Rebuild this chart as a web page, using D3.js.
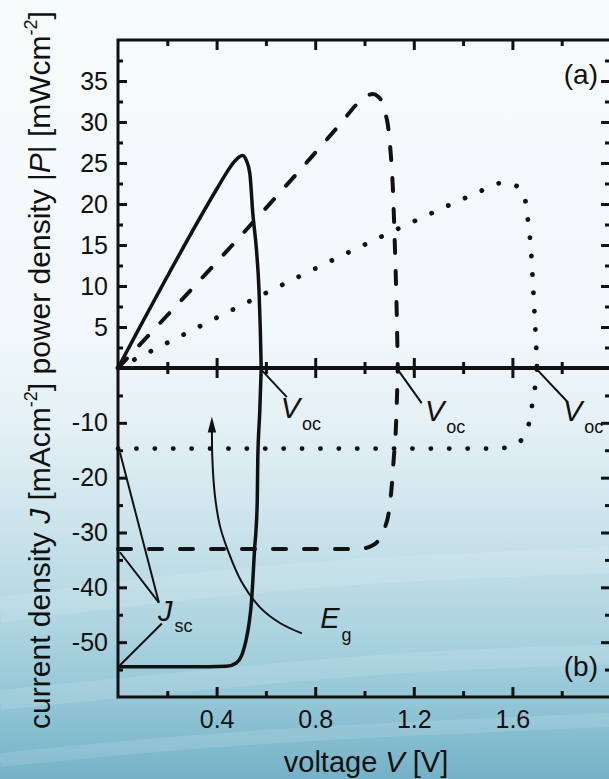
<!DOCTYPE html>
<html>
<head>
<meta charset="utf-8">
<script src="https://cdn.jsdelivr.net/npm/d3@7"></script>
<style>
  html, body { margin: 0; padding: 0; overflow: hidden; background: #f6fbfc; }
</style>
</head>
<body>
<script>
// values: [voltage V, power density P] and [voltage V, current density J]
// solid = low band gap, dashed = medium, dotted = high
const solidP = [[0,0],[0.4,21.8],[0.44,23.8],[0.47,25.1],[0.49,25.7],[0.505,25.9],[0.521,25.3],[0.535,23.7],[0.547,18.8],[0.562,14.3],[0.572,9.5],[0.577,5],[0.581,0]];
const solidJ = [[0,-54.5],[0.3,-54.5],[0.44,-54.4],[0.48,-53.8],[0.5,-52.6],[0.519,-49.7],[0.532,-46.5],[0.542,-42.4],[0.547,-38.8],[0.554,-33],[0.56,-29.5],[0.565,-24],[0.567,-16.8],[0.575,-8],[0.581,0]];

const dashedP = [[0,0],[0.9,29.7],[0.98,32.5],[1.01,33.2],[1.034,33.4],[1.055,33.1],[1.07,32.5],[1.085,31],[1.094,29.8],[1.107,25.9],[1.115,22],[1.122,16],[1.128,10],[1.132,5],[1.135,0]];
const dashedJ = [[0,-33],[0.9,-33],[0.995,-32.9],[1.03,-32.4],[1.05,-31.8],[1.07,-30.5],[1.085,-28.8],[1.095,-27.2],[1.11,-21.8],[1.119,-16.3],[1.127,-11.3],[1.132,-5],[1.135,0]];

const dottedP = [[0,0],[1.45,21.3],[1.495,21.9],[1.53,22.4],[1.569,22.6],[1.6,22.4],[1.637,21.7],[1.658,19.4],[1.666,17.1],[1.674,15],[1.682,11],[1.69,6.5],[1.696,3],[1.7,0]];
const dottedJ = [[0,-14.7],[1.5,-14.7],[1.56,-14.6],[1.6,-14.2],[1.625,-13.6],[1.642,-12.8],[1.67,-9.5],[1.682,-6.2],[1.694,-2.7],[1.7,0]];

// ticks
const vMajor = [0.4, 0.8, 1.2, 1.6];
const vMinor = [0.2, 0.6, 1.0, 1.4, 1.8];
const pMajor = [5, 10, 15, 20, 25, 30, 35];
const pMinor = [2.5, 7.5, 12.5, 17.5, 22.5, 27.5, 32.5, 37.5];
const jMajor = [-10, -20, -30, -40, -50];
const jMinor = [-5, -15, -25, -35, -45, -55];

// annotations (in data units of the lower panel)
const vocMarks = [
  {from: [0.581, -0.3], to: [0.685, -5.3], label: [0.66, -9.1]},
  {from: [1.135, -0.3], to: [1.232, -6.4], label: [1.245, -9.6]},
  {from: [1.7, -0.3], to: [1.824, -6.2], label: [1.805, -9.6]}
];
const jscMarks = [
  {from: [0.008, -15.4], to: [0.166, -42.8]},
  {from: [0.008, -33.6], to: [0.166, -42.8]},
  {from: [0.008, -54.2], to: [0.178, -46.6]}
];
const jscLabel = [0.162, -46.2];
const egArrow = [[0.746,-48.4],[0.657,-46.5],[0.575,-43.6],[0.499,-38.8],[0.446,-33.3],[0.413,-28.7],[0.393,-23.2],[0.383,-16.8],[0.381,-11.6]];
const egLabel = [0.82, -47.5];

const W = 609, H = 779;
const ink = "#111";

const svg = d3.select("body").append("svg")
  .attr("width", W).attr("height", H)
  .style("font-family", "'Liberation Sans', Arial, sans-serif");

const defs = svg.append("defs");
const grad = defs.append("linearGradient").attr("id", "bg")
  .attr("x1", 0).attr("y1", 0).attr("x2", 0).attr("y2", 1);
[[0, "#f6fbfc"], [0.42, "#f3f9fb"], [0.55, "#e3f0f5"], [0.68, "#cbe3eb"], [0.8, "#afd5e1"], [0.9, "#93c6d6"], [1, "#74b2c7"]]
  .forEach(s => grad.append("stop").attr("offset", s[0]).attr("stop-color", s[1]));

defs.append("marker").attr("id", "arrow")
  .attr("viewBox", "0 0 16 10").attr("refX", 1).attr("refY", 5)
  .attr("markerWidth", 16).attr("markerHeight", 10)
  .attr("markerUnits", "userSpaceOnUse").attr("orient", "auto")
  .append("path").attr("d", "M0,0.8 L16,5 L0,9.2 Z").attr("fill", ink);

svg.append("rect").attr("width", W).attr("height", H).attr("fill", "url(#bg)");

// faint streaks in the lower background
const streak = d3.line().curve(d3.curveBasis);
[[[0,610],[150,590],[350,570],[609,560]], [[0,700],[200,680],[420,660],[609,655]], [[0,760],[250,735],[609,720]]]
  .forEach((s, i) => svg.append("path").attr("d", streak(s))
    .attr("fill", "none").attr("stroke", "#ffffff").attr("stroke-opacity", 0.12)
    .attr("stroke-width", 26 - i * 6));

const x = d3.scaleLinear().domain([0, 2]).range([118, 611]);
const yP = d3.scaleLinear().domain([0, 40]).range([368, 40]);
const yJ = d3.scaleLinear().domain([0, -60]).range([368, 697]);

const plain = d => String(d);

// axes
function styleAxis(g, w) {
  g.select(".domain").remove();
  g.selectAll(".tick line").attr("stroke", ink).attr("stroke-width", w);
  g.selectAll(".tick text").attr("fill", ink).attr("font-size", 25);
}

// left, upper panel
svg.append("g").attr("transform", "translate(118,0)")
  .call(d3.axisLeft(yP).tickValues(pMinor).tickSize(-5).tickFormat(""))
  .call(g => styleAxis(g, 3));
svg.append("g").attr("transform", "translate(118,0)")
  .call(d3.axisLeft(yP).tickValues(pMajor).tickSize(-9).tickPadding(10).tickFormat(plain))
  .call(g => styleAxis(g, 3));
// left, lower panel
svg.append("g").attr("transform", "translate(118,0)")
  .call(d3.axisLeft(yJ).tickValues(jMinor).tickSize(-5).tickFormat(""))
  .call(g => styleAxis(g, 3));
svg.append("g").attr("transform", "translate(118,0)")
  .call(d3.axisLeft(yJ).tickValues(jMajor).tickSize(-9).tickPadding(10).tickFormat(plain))
  .call(g => styleAxis(g, 3));

// right side (mostly cut off)
svg.append("g").attr("transform", "translate(611,0)")
  .call(d3.axisLeft(yP).tickValues(pMinor).tickSize(6).tickFormat(""))
  .call(g => styleAxis(g, 3));
svg.append("g").attr("transform", "translate(611,0)")
  .call(d3.axisLeft(yP).tickValues(pMajor).tickSize(10).tickFormat(""))
  .call(g => styleAxis(g, 3));
svg.append("g").attr("transform", "translate(611,0)")
  .call(d3.axisLeft(yJ).tickValues(jMinor).tickSize(6).tickFormat(""))
  .call(g => styleAxis(g, 3));
svg.append("g").attr("transform", "translate(611,0)")
  .call(d3.axisLeft(yJ).tickValues(jMajor).tickSize(10).tickFormat(""))
  .call(g => styleAxis(g, 3));

// top
svg.append("g").attr("transform", "translate(0,40)")
  .call(d3.axisTop(x).tickValues(vMinor).tickSize(-6).tickFormat(""))
  .call(g => styleAxis(g, 3));
svg.append("g").attr("transform", "translate(0,40)")
  .call(d3.axisTop(x).tickValues(vMajor).tickSize(-10).tickFormat(""))
  .call(g => styleAxis(g, 3));
// bottom
svg.append("g").attr("transform", "translate(0,697)")
  .call(d3.axisBottom(x).tickValues(vMinor).tickSize(-6).tickFormat(""))
  .call(g => styleAxis(g, 3));
const bottomAx = svg.append("g").attr("transform", "translate(0,697)")
  .call(d3.axisBottom(x).tickValues(vMajor).tickSize(-10).tickFormat(d3.format(".1f")))
  .call(g => styleAxis(g, 3));
bottomAx.selectAll(".tick text").attr("y", 31).attr("dy", 0);

// zero line ticks, both sides
svg.append("g").attr("transform", "translate(0,362)")
  .call(d3.axisBottom(x).tickValues(vMinor).tickSize(12).tickFormat(""))
  .call(g => styleAxis(g, 3));
svg.append("g").attr("transform", "translate(0,358)")
  .call(d3.axisBottom(x).tickValues(vMajor).tickSize(20).tickFormat(""))
  .call(g => styleAxis(g, 3));

// frame and zero line
svg.append("rect")
  .attr("x", x(0)).attr("y", yP(40))
  .attr("width", x(2) - x(0)).attr("height", yJ(-60) - yP(40))
  .attr("fill", "none").attr("stroke", ink).attr("stroke-width", 3);
svg.append("line")
  .attr("x1", x(0)).attr("x2", x(2)).attr("y1", yP(0)).attr("y2", yP(0))
  .attr("stroke", ink).attr("stroke-width", 4);

// curves
const lineP = d3.line().x(d => x(d[0])).y(d => yP(d[1])).curve(d3.curveMonotoneX);
const lineJ = d3.line().x(d => x(d[0])).y(d => yJ(d[1])).curve(d3.curveMonotoneX);

const series = [
  {p: solidP, j: solidJ, w: 3.5, dash: null, cap: "butt"},
  {p: dashedP, j: dashedJ, w: 4, dash: "13,18", cap: "round"},
  {p: dottedP, j: dottedJ, w: 4.8, dash: "0.1,18.3", cap: "round"}
];
series.forEach(s => {
  [lineP(s.p), lineJ(s.j)].forEach(d => {
    svg.append("path").attr("d", d)
      .attr("fill", "none").attr("stroke", ink)
      .attr("stroke-width", s.w).attr("stroke-linecap", s.cap)
      .attr("stroke-dasharray", s.dash);
  });
});

// annotations
const pt = d => [x(d[0]), yJ(d[1])];
function subLabel(pos, main, sub, subDy) {
  const t = svg.append("text").attr("x", pos[0]).attr("y", pos[1]).attr("fill", ink);
  t.append("tspan").attr("font-size", 29).attr("font-style", "italic").text(main);
  t.append("tspan").attr("font-size", 18).attr("dx", 2).attr("dy", subDy).text(sub);
}

vocMarks.forEach(m => {
  const a = pt(m.from), b = pt(m.to);
  svg.append("line").attr("x1", a[0]).attr("y1", a[1]).attr("x2", b[0]).attr("y2", b[1])
    .attr("stroke", ink).attr("stroke-width", 2);
  subLabel(pt(m.label), "V", "oc", 12);
});

jscMarks.forEach(m => {
  const a = pt(m.from), b = pt(m.to);
  svg.append("line").attr("x1", a[0]).attr("y1", a[1]).attr("x2", b[0]).attr("y2", b[1])
    .attr("stroke", ink).attr("stroke-width", 2);
});
subLabel(pt(jscLabel), "J", "sc", 11);

svg.append("path")
  .attr("d", d3.line().x(d => x(d[0])).y(d => yJ(d[1])).curve(d3.curveCatmullRom)(egArrow))
  .attr("fill", "none").attr("stroke", ink).attr("stroke-width", 2)
  .attr("marker-end", "url(#arrow)");
subLabel(pt(egLabel), "E", "g", 13);

// panel tags
svg.append("text").attr("x", 598).attr("y", 84).attr("text-anchor", "end")
  .attr("font-size", 28).attr("fill", ink).text("(a)");
svg.append("text").attr("x", 598).attr("y", 676).attr("text-anchor", "end")
  .attr("font-size", 28).attr("fill", ink).text("(b)");

// axis titles
const yl = svg.append("text").attr("transform", "translate(50,370) rotate(-90)")
  .attr("text-anchor", "middle").attr("font-size", 30).attr("fill", ink);
yl.append("tspan").text("current density ");
yl.append("tspan").attr("font-style", "italic").text("J");
yl.append("tspan").text(" [mAcm");
yl.append("tspan").attr("font-size", 18).attr("dy", -13).text("-2");
yl.append("tspan").attr("dy", 13).text("] power density |");
yl.append("tspan").attr("font-style", "italic").text("P");
yl.append("tspan").text("| [mWcm");
yl.append("tspan").attr("font-size", 18).attr("dy", -13).text("-2");
yl.append("tspan").attr("dy", 13).text("]");

const xl = svg.append("text").attr("x", 366).attr("y", 772)
  .attr("text-anchor", "middle").attr("font-size", 29).attr("fill", ink);
xl.append("tspan").text("voltage ");
xl.append("tspan").attr("font-style", "italic").text("V");
xl.append("tspan").text(" [V]");
</script>
</body>
</html>
